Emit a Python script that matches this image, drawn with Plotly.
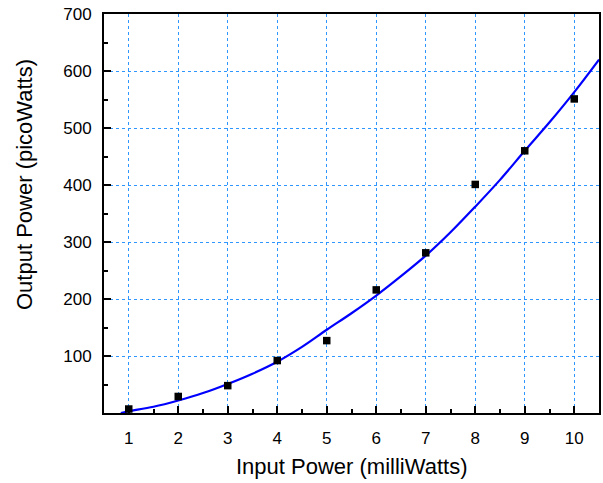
import plotly.graph_objects as go

input_mw = [1, 2, 3, 4, 5, 6, 7, 8, 9, 10]
output_pw = [7, 29, 48, 92, 127, 216, 281, 401, 460, 551]

fit_x = [0.84, 1, 1.5, 2, 2.5, 3, 3.5, 4, 4.5, 5, 5.5, 6, 6.5, 7, 7.5, 8, 8.5, 9, 9.5, 10, 10.5]
fit_y = [0, 3, 11, 22, 35, 51, 69, 90, 116, 146, 175, 206, 240, 276, 317, 362, 409, 460, 510, 563, 620]

x_ticks = [1, 2, 3, 4, 5, 6, 7, 8, 9, 10]
y_ticks = [100, 200, 300, 400, 500, 600, 700]

x_title = "Input Power (milliWatts)"
y_title = "Output Power (picoWatts)"

font = "Liberation Sans, Arial, sans-serif"
L, R, T, B = 104, 4, 14, 70
W, H = 603, 483
pw, ph = W - L - R, H - T - B

fig = go.Figure()
fig.add_trace(go.Scatter(x=fit_x, y=fit_y, mode="lines", line=dict(color="#0000ff", width=2.2, shape="spline"),
                         showlegend=False, hoverinfo="skip"))
fig.add_trace(go.Scatter(x=input_mw, y=output_pw, mode="markers",
                         marker=dict(symbol="square", size=7.5, color="black"), showlegend=False))

grid = dict(showgrid=True, gridcolor="#2f95ff", griddash="dot", gridwidth=1.2)
common = dict(ticks="inside", ticklen=7, tickwidth=1.5, tickcolor="black", showline=True,
              linecolor="black", linewidth=2, mirror=True, zeroline=False, automargin=False,
              tickfont=dict(family=font, size=17, color="black"))
fig.update_xaxes(range=[0.5, 10.5], tickvals=x_ticks, ticklabelstandoff=9,
                 minor=dict(tick0=0.5, dtick=1, ticks="inside", ticklen=4, tickcolor="black", showgrid=False),
                 **common, **grid)
fig.update_yaxes(range=[0, 700], tickvals=y_ticks, ticklabelstandoff=7,
                 minor=dict(tick0=50, dtick=100, ticks="inside", ticklen=4, tickcolor="black", showgrid=False),
                 **common, **grid)

fig.add_annotation(text=x_title, xref="paper", yref="paper", x=(351 - L) / pw, y=(ph + T - 466) / ph,
                   xanchor="center", yanchor="middle", showarrow=False,
                   font=dict(family=font, size=22, color="black"))
fig.add_annotation(text=y_title, xref="paper", yref="paper", x=(24 - L) / pw, y=(ph + T - 185) / ph,
                   xanchor="center", yanchor="middle", showarrow=False, textangle=-90,
                   font=dict(family=font, size=22, color="black"))

fig.update_layout(width=W, height=H, margin=dict(l=L, r=R, t=T, b=B),
                  plot_bgcolor="white", paper_bgcolor="white")
fig.write_html("out.html", config={"displayModeBar": False},
               post_script="document.body.style.margin='0';document.body.style.overflow='hidden';")
